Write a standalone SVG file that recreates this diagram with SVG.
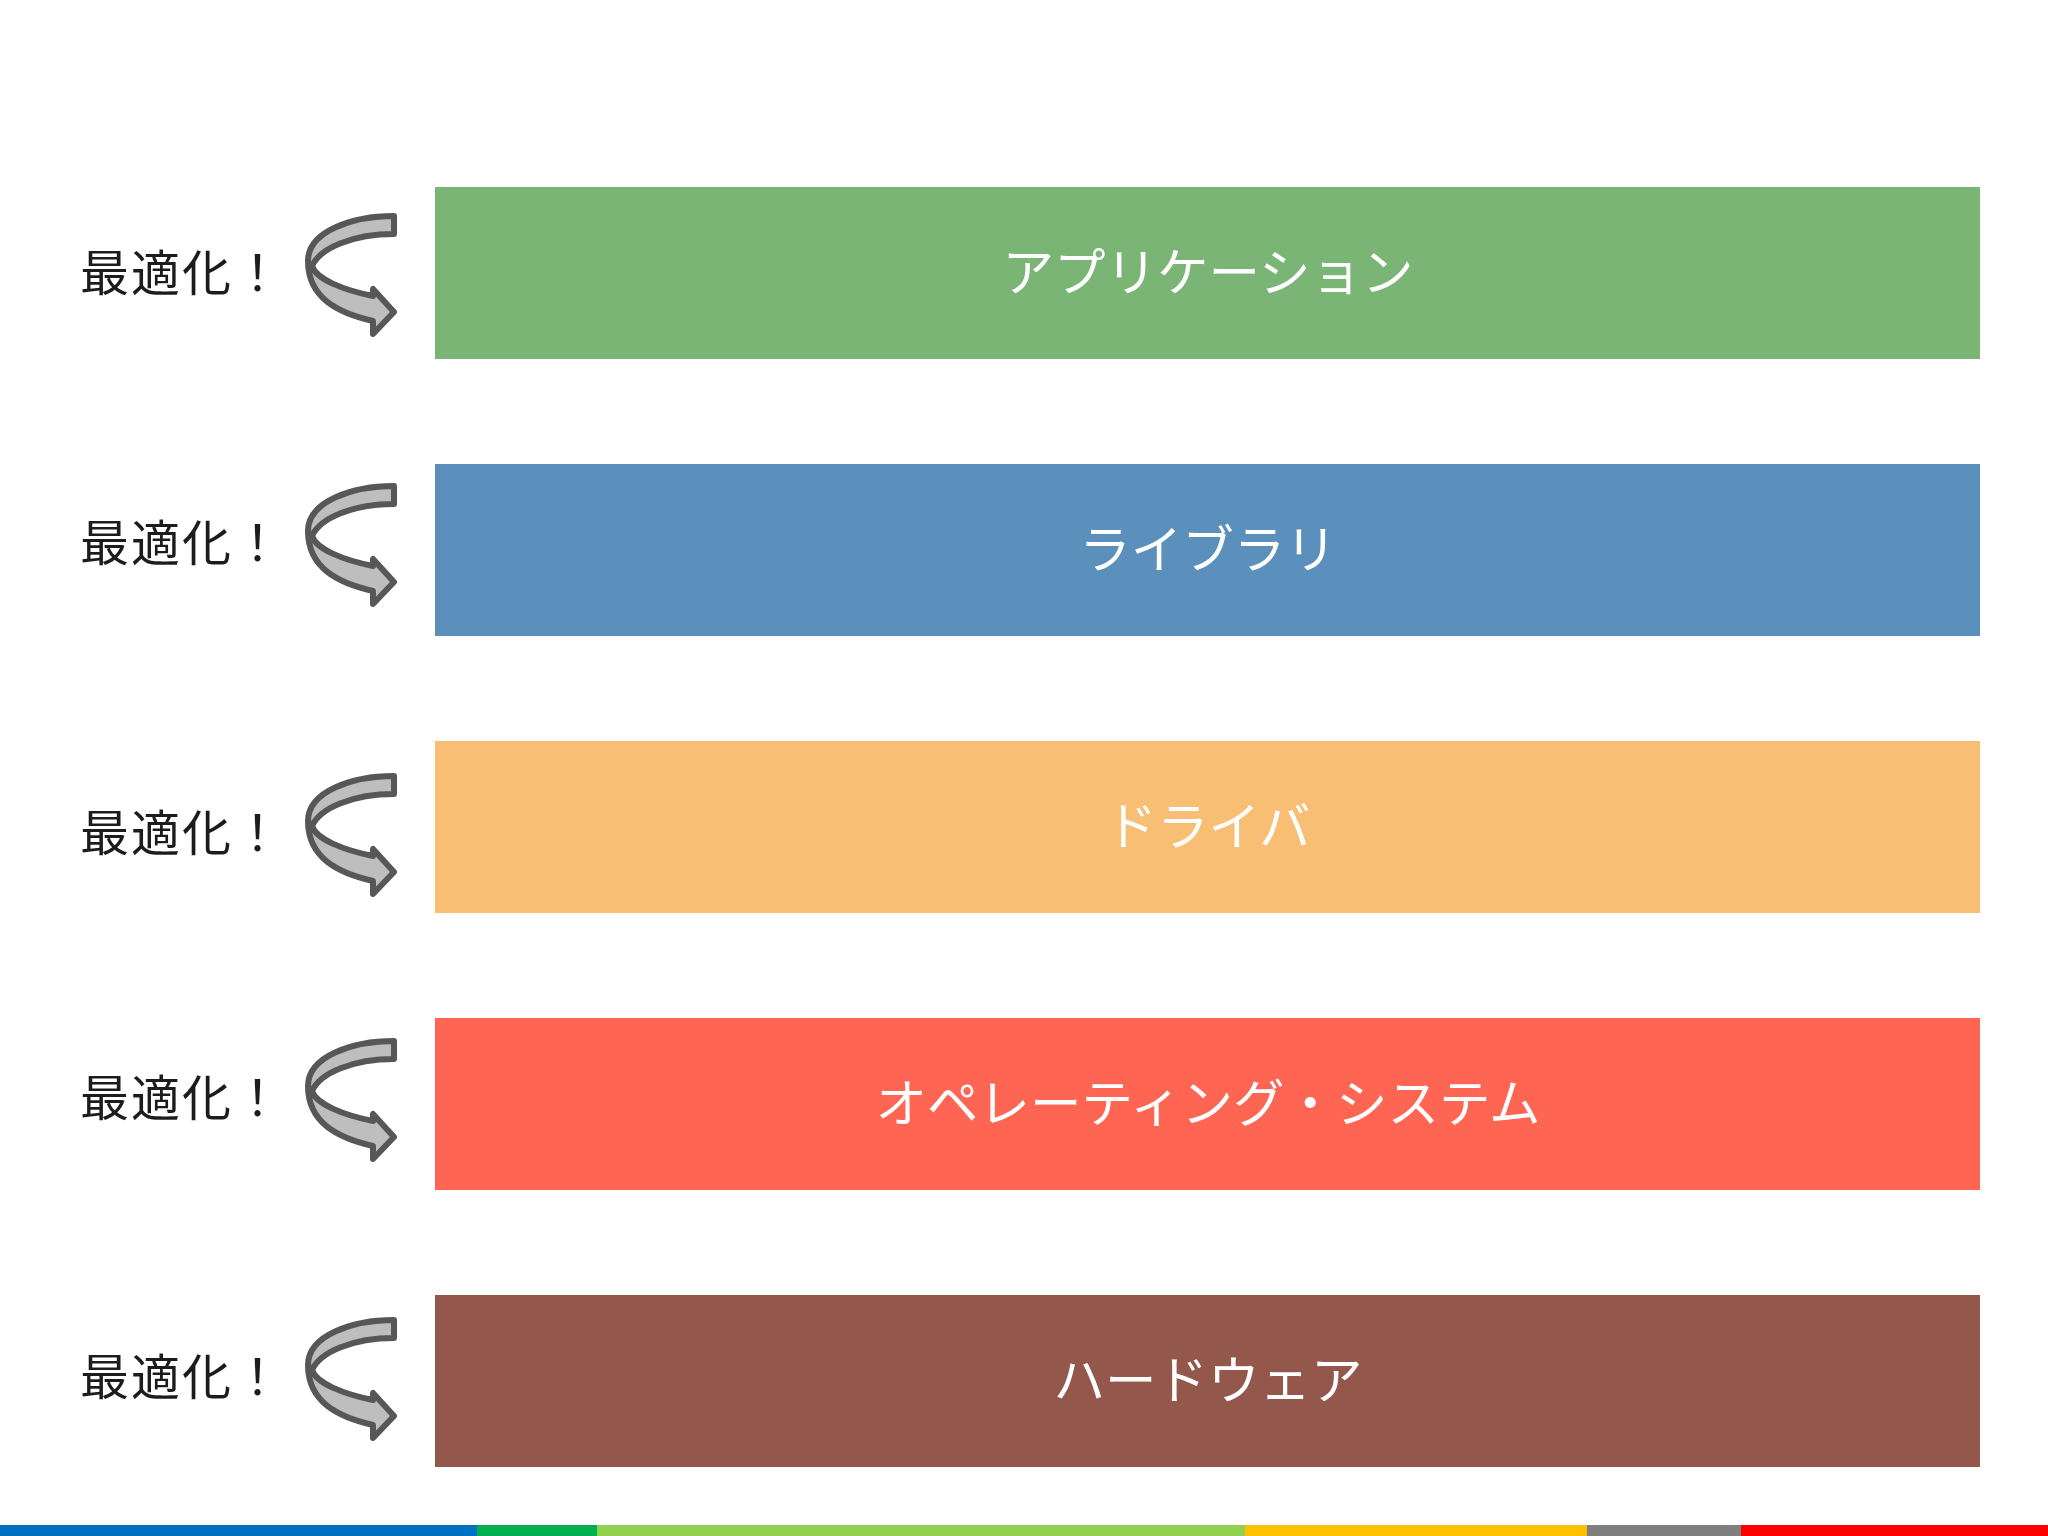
<svg xmlns="http://www.w3.org/2000/svg" xmlns:xlink="http://www.w3.org/1999/xlink" width="2048" height="1536" viewBox="0 0 2048 1536">
<style>
.lbl{font-family:"Noto Sans CJK JP","Noto Sans",sans-serif;font-size:49px;letter-spacing:2px;fill:#1c1c1c}
.bt{font-family:"Noto Sans CJK JP","Noto Sans",sans-serif;font-size:51.5px;fill:#ffffff;text-anchor:middle}
.arr{fill:#BEBEBE;stroke:#575757;stroke-width:6;stroke-linejoin:round}
</style>
<defs>
<path id="twist" class="arr" d="M86,3 C45,3 0,18 0,48 C0,85 30,100 65,108 L65,121 L86,99 L65,76 L65,83 C35,77 8,66 4,53 C12,35 45,21 86,21 Z"/>
</defs>
<rect width="2048" height="1536" fill="#ffffff"/>
<g id="layer-application">
<rect x="435" y="187" width="1545" height="172" fill="#7AB576"/>
<text class="bt" x="1208" y="291">アプリケーション</text>
</g>
<g id="layer-library">
<rect x="435" y="464" width="1545" height="172" fill="#5B8FBC"/>
<text class="bt" x="1208" y="568">ライブラリ</text>
</g>
<g id="layer-driver">
<rect x="435" y="741" width="1545" height="172" fill="#F8BE73"/>
<text class="bt" x="1208" y="845">ドライバ</text>
</g>
<g id="layer-os">
<rect x="435" y="1018" width="1545" height="172" fill="#FF6553"/>
<text class="bt" x="1208" y="1122">オペレーティング・システム</text>
</g>
<g id="layer-hardware">
<rect x="435" y="1295" width="1545" height="172" fill="#93574C"/>
<text class="bt" x="1208" y="1399">ハードウェア</text>
</g>
<g id="optimize-1"><text class="lbl" x="80" y="291">最適化！</text><use xlink:href="#twist" transform="translate(308,213)"/></g>
<g id="optimize-2"><text class="lbl" x="80" y="561">最適化！</text><use xlink:href="#twist" transform="translate(308,483)"/></g>
<g id="optimize-3"><text class="lbl" x="80" y="851">最適化！</text><use xlink:href="#twist" transform="translate(308,773)"/></g>
<g id="optimize-4"><text class="lbl" x="80" y="1116">最適化！</text><use xlink:href="#twist" transform="translate(308,1038)"/></g>
<g id="optimize-5"><text class="lbl" x="80" y="1395">最適化！</text><use xlink:href="#twist" transform="translate(308,1317)"/></g>
<g id="connectors"></g>
<g id="footer-bar">
<rect x="0" y="1525" width="477" height="11" fill="#0070C0"/>
<rect x="477" y="1525" width="120" height="11" fill="#00B050"/>
<rect x="597" y="1525" width="648" height="11" fill="#92D050"/>
<rect x="1245" y="1525" width="342" height="11" fill="#FFC000"/>
<rect x="1587" y="1525" width="154" height="11" fill="#7F7F7F"/>
<rect x="1741" y="1525" width="307" height="11" fill="#FF0000"/>
</g>
</svg>
